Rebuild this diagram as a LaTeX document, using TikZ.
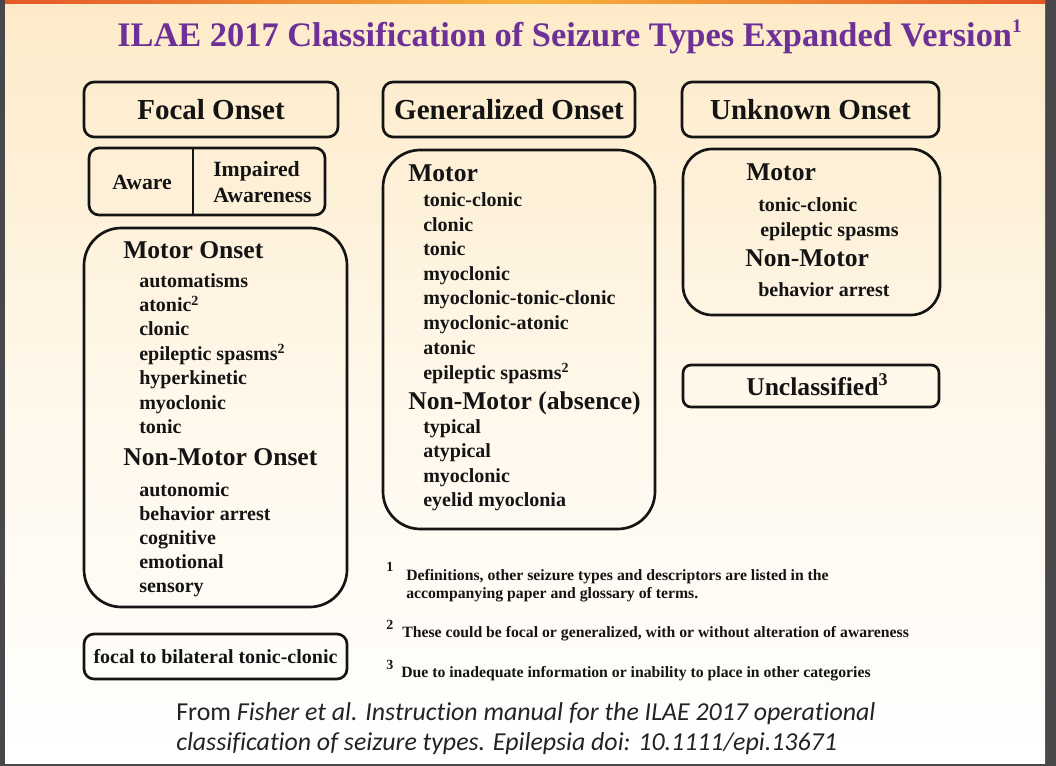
\documentclass[tikz,border=0pt]{standalone}
\usepackage{fontspec}
\setmainfont{Liberation Serif}
\newfontfamily\calib[Ligatures=NoCommon]{Carlito}
\definecolor{txt}{RGB}{20,20,20}
\definecolor{ttl}{RGB}{108,48,150}
\definecolor{frame}{RGB}{72,72,74}
\definecolor{peach}{RGB}{253,234,200}
\definecolor{peachmid}{RGB}{255,247,233}
\definecolor{barA}{RGB}{228,88,40}
\definecolor{barB}{RGB}{248,178,60}
\tikzset{
  box/.style={draw=txt, line width=2pt, inner sep=0pt},
  hdr/.style={box, rounded corners=7.5pt, font=\fontsize{21.75}{24}\selectfont\bfseries, text=txt},
  sec/.style={anchor=base west, inner sep=0pt, font=\fontsize{19.2}{22}\selectfont\bfseries, text=txt},
  itm/.style={anchor=base west, inner sep=0pt, font=\fontsize{15}{18}\selectfont\bfseries, text=txt},
  fn/.style={anchor=base west, inner sep=0pt, font=\fontsize{11.8}{13.5}\selectfont\bfseries, text=txt, align=left},
  fnum/.style={anchor=base west, inner sep=0pt, font=\fontsize{10.5}{12}\selectfont\bfseries, text=txt},
}
\begin{document}
\begin{tikzpicture}[x=0.75pt,y=-0.75pt]
\useasboundingbox (0,0) rectangle (1056,766);
% frame and slide background
\fill[frame] (0,0) rectangle (1056,766);
\shade[top color=peach, bottom color=white, middle color=peachmid] (5,0) rectangle (1045,763);
\shade[left color=barA, right color=barA, middle color=barB] (5,0) rectangle (1045,4);

% title
\node[anchor=base west, inner sep=0pt, font=\fontsize{25.8}{28}\selectfont\bfseries, text=ttl] (title) at (117,47)
  {ILAE 2017 Classification of Seizure Types Expanded Version\raisebox{10.5pt}{\fontsize{14.4}{15}\selectfont 1}};

% column headers
\node[hdr, minimum width=190.5pt, minimum height=41.25pt] (focal) at (211,109.5) {Focal Onset};
\node[hdr, minimum width=189pt, minimum height=41.25pt] (gen) at (509,109.5) {Generalized Onset};
\node[hdr, minimum width=192.75pt, minimum height=41.25pt] (unk) at (810.5,109.5) {Unknown Onset};

% aware / impaired awareness
\node[box, rounded corners=7.5pt, minimum width=177pt, minimum height=50.25pt] (aw) at (207,181.5) {};
\coordinate (dv) at (193,0);
\draw[line width=2pt, draw=txt] (aw.north -| dv) -- (aw.south -| dv);
\node[anchor=base west, inner sep=0pt, font=\fontsize{16.3}{18}\selectfont\bfseries, text=txt] (aware) at (112,190) {Aware};
\node[anchor=base west, inner sep=0pt, font=\fontsize{16.3}{18}\selectfont\bfseries, text=txt] (imp1) at (213,177) {Impaired};
\node[anchor=base west, inner sep=0pt, font=\fontsize{16.3}{18}\selectfont\bfseries, text=txt] (imp2) at (213,203) {Awareness};

% focal big box
\node[box, rounded corners=28pt, minimum width=197.25pt, minimum height=284.25pt] (fbox) at (215.5,417.5) {};
\node[sec] (fmot) at (123,259) {Motor Onset};
\foreach \t/\yy [count=\i] in {automatisms/288, atonic\textsuperscript{2}/312, clonic/336, epileptic spasms\textsuperscript{2}/360.5, hyperkinetic/384.5, myoclonic/409, tonic/433}
  \node[itm] (fm\i) at (139,\yy) {\t};
\node[sec] (fnon) at (123,465) {Non-Motor Onset};
\foreach \t/\yy [count=\i] in {autonomic/496, behavior arrest/520, cognitive/544, emotional/568, sensory/592}
  \node[itm] (fn\i) at (139,\yy) {\t};

% focal to bilateral
\node[box, rounded corners=7.5pt, minimum width=197.25pt, minimum height=33.75pt, font=\fontsize{15}{18}\selectfont\bfseries, text=txt] (fbtc) at (215.5,656.5) {focal to bilateral tonic-clonic};

% generalized big box
\node[box, rounded corners=28pt, minimum width=204pt, minimum height=284.25pt] (gbox) at (519,339.5) {};
\node[sec] (gmot) at (408,182) {Motor};
\foreach \t/\yy [count=\i] in {tonic-clonic/207, clonic/232, tonic/256, myoclonic/280.5, myoclonic-tonic-clonic/305, myoclonic-atonic/330, atonic/354, epileptic spasms\textsuperscript{2}/379}
  \node[itm] (gm\i) at (423,\yy) {\t};
\node[sec] (gnon) at (408,409) {Non-Motor (absence)};
\foreach \t/\yy [count=\i] in {typical/433, atypical/457.5, myoclonic/482, eyelid myoclonia/506}
  \node[itm] (gn\i) at (423,\yy) {\t};

% unknown box
\node[box, rounded corners=22pt, minimum width=192.75pt, minimum height=124.5pt] (ubox) at (811.5,232) {};
\node[sec] (umot) at (746,181) {Motor};
\node[itm] (um1) at (758,212) {tonic-clonic};
\node[itm] (um2) at (760,237) {epileptic spasms};
\node[sec] (unon) at (745,267) {Non-Motor};
\node[itm] (un1) at (758,297) {behavior arrest};

% unclassified
\node[box, rounded corners=6pt, minimum width=192pt, minimum height=31.5pt] (ucl) at (811,386) {};
\node[sec] (ucltxt) at (746,396) {Unclassified\textsuperscript{3}};

% footnotes (base anchor = last line)
\node[fnum] (f1n) at (386,571) {1};
\node[fn] (f1) at (406,598) {Definitions, other seizure types and descriptors are listed in the\\ accompanying paper and glossary of terms.};
\node[fnum] (f2n) at (386,629) {2};
\node[fn] (f2) at (402,637) {These could be focal or generalized, with or without alteration of awareness};
\node[fnum] (f3n) at (386,669) {3};
\node[fn] (f3) at (401,677) {Due to inadequate information or inability to place in other categories};

% source line (base anchor = last line)
\node[anchor=base west, inner sep=0pt, align=left, text={rgb,255:red,35;green,35;blue,35}, font=\calib\fontsize{19.4}{22.5}\selectfont] (src) at (176,750)
  {From \textit{Fisher et al. Instruction manual for the ILAE 2017 operational}\\ \textit{classification of seizure types. Epilepsia doi: 10.1111/epi.13671}};
\end{tikzpicture}
\end{document}
